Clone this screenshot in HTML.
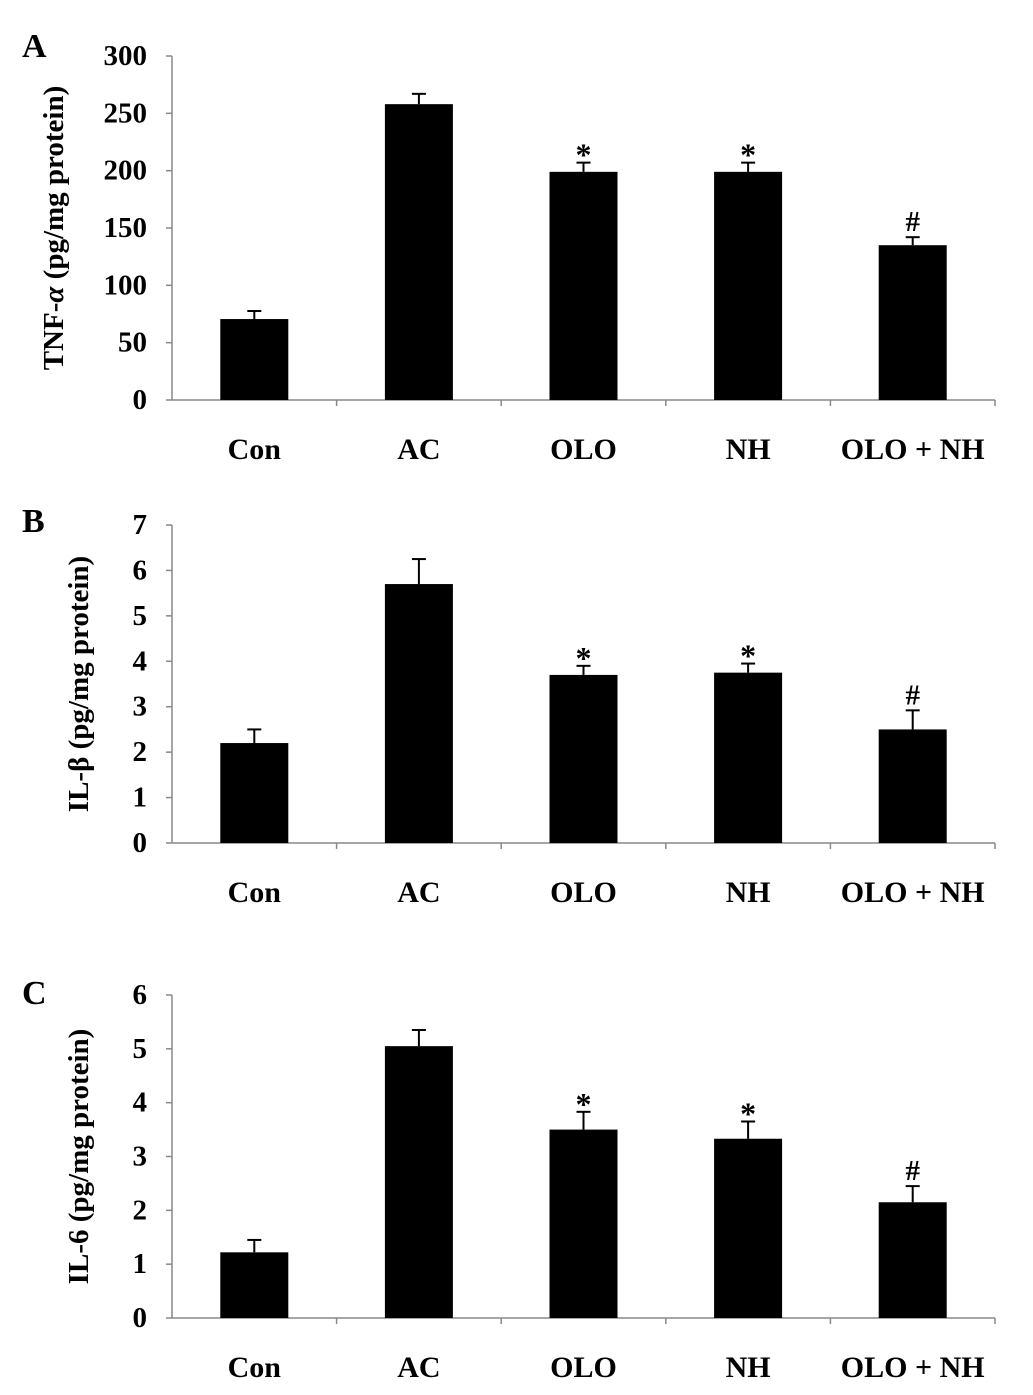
<!DOCTYPE html>
<html><head><meta charset="utf-8"><style>
html,body{margin:0;padding:0;background:#fff;}
svg{display:block;font-family:"Liberation Serif",serif;font-weight:bold;}
</style></head><body>
<svg id="chart" width="1033" height="1395" viewBox="0 0 1033 1395"></svg>
<script>
const categories = ["Con","AC","OLO","NH","OLO + NH"];
const tnfValues = [70.6, 258, 199, 199, 135];
const tnfErrors = [7, 9, 8, 8, 7];
const tnfMarks = ["", "", "*", "*", "#"];
const tnfTicks = [0,50,100,150,200,250,300];
const il1Values = [2.2, 5.7, 3.7, 3.75, 2.5];
const il1Errors = [0.3, 0.55, 0.2, 0.2, 0.42];
const il1Marks = ["", "", "*", "*", "#"];
const il1Ticks = [0,1,2,3,4,5,6,7];
const il6Values = [1.22, 5.05, 3.5, 3.33, 2.15];
const il6Errors = [0.23, 0.3, 0.33, 0.32, 0.3];
const il6Marks = ["", "", "*", "*", "#"];
const il6Ticks = [0,1,2,3,4,5,6];

const NS="http://www.w3.org/2000/svg";
const svg=document.getElementById('chart');
function mk(tag,attrs,parent){const e=document.createElementNS(NS,tag);for(const k in attrs)e.setAttribute(k,attrs[k]);(parent||svg).appendChild(e);return e;}

function panel(cfg,values,errors,marks,ticks){
  const g=mk('g',{});
  
  
  const x0=172,x1=995,ymax=ticks[ticks.length-1];
  const y=v=>cfg.y0-(v/ymax)*(cfg.y0-cfg.yTop);
  const step=(x1-x0)/categories.length;
  const ax=mk('line',{x1:x0,y1:cfg.y0,x2:x0,y2:cfg.yTop,stroke:'#888','stroke-width':1.5},g);
  
  
  const bx=mk('line',{x1:x0,y1:cfg.y0,x2:x1,y2:cfg.y0,stroke:'#888','stroke-width':1.5},g);
  
  
  ticks.forEach(t=>{
    mk('line',{x1:x0-6,y1:y(t),x2:x0,y2:y(t),stroke:'#888','stroke-width':1.5},g);
    const tx=mk('text',{x:x0-25,y:y(t)+9,'text-anchor':'end','font-size':29},g);
    tx.textContent=t;
    
    
  });
  for(let i=1;i<=categories.length;i++) mk('line',{x1:x0+i*step,y1:cfg.y0,x2:x0+i*step,y2:cfg.y0+6,stroke:'#888','stroke-width':1.5},g);
  categories.forEach((c,i)=>{
    const cx=x0+step*(i+0.5);
    const v=values[i],e=errors[i];
    mk('line',{x1:cx,y1:y(v),x2:cx,y2:y(v+e),stroke:'#000','stroke-width':2},g);
    mk('line',{x1:cx-7,y1:y(v+e),x2:cx+7,y2:y(v+e),stroke:'#000','stroke-width':2},g);
    const b=mk('rect',{x:cx-34,y:y(v),width:68,height:cfg.y0-y(v),fill:'#000'},g);
    
    
    if(marks[i]){
      const isHash=marks[i]==='#';
      const m=mk('text',{x:cx,y:y(v+e)+(isHash?-6:3),'text-anchor':'middle','font-size':isHash?29:32},g);
      m.textContent=marks[i];
      
      
    }
    const l=mk('text',{x:cx,y:cfg.y0+59,'text-anchor':'middle','font-size':30},g);
    l.textContent=c;
    
    
  });
  const ty=(cfg.y0+cfg.yTop)/2;
  const tt=mk('text',{x:cfg.titleX,y:ty,'text-anchor':'middle','font-size':29,transform:`rotate(-90 ${cfg.titleX} ${ty})`},g);
  tt.innerHTML=cfg.title;
  
  
  const pl=mk('text',{x:22,y:cfg.letterY,'font-size':34},g);
  pl.textContent=cfg.key;
  
  
}
panel({key:'A',y0:400,yTop:56,titleX:63,letterY:57,title:'TNF-<tspan font-style="italic">α</tspan> (pg/mg protein)'},tnfValues,tnfErrors,tnfMarks,tnfTicks);
panel({key:'B',y0:843,yTop:525,titleX:88,letterY:532,title:'IL-β (pg/mg protein)'},il1Values,il1Errors,il1Marks,il1Ticks);
panel({key:'C',y0:1318,yTop:995,titleX:88,letterY:1004,title:'IL-6 (pg/mg protein)'},il6Values,il6Errors,il6Marks,il6Ticks);
</script>
</body></html>
